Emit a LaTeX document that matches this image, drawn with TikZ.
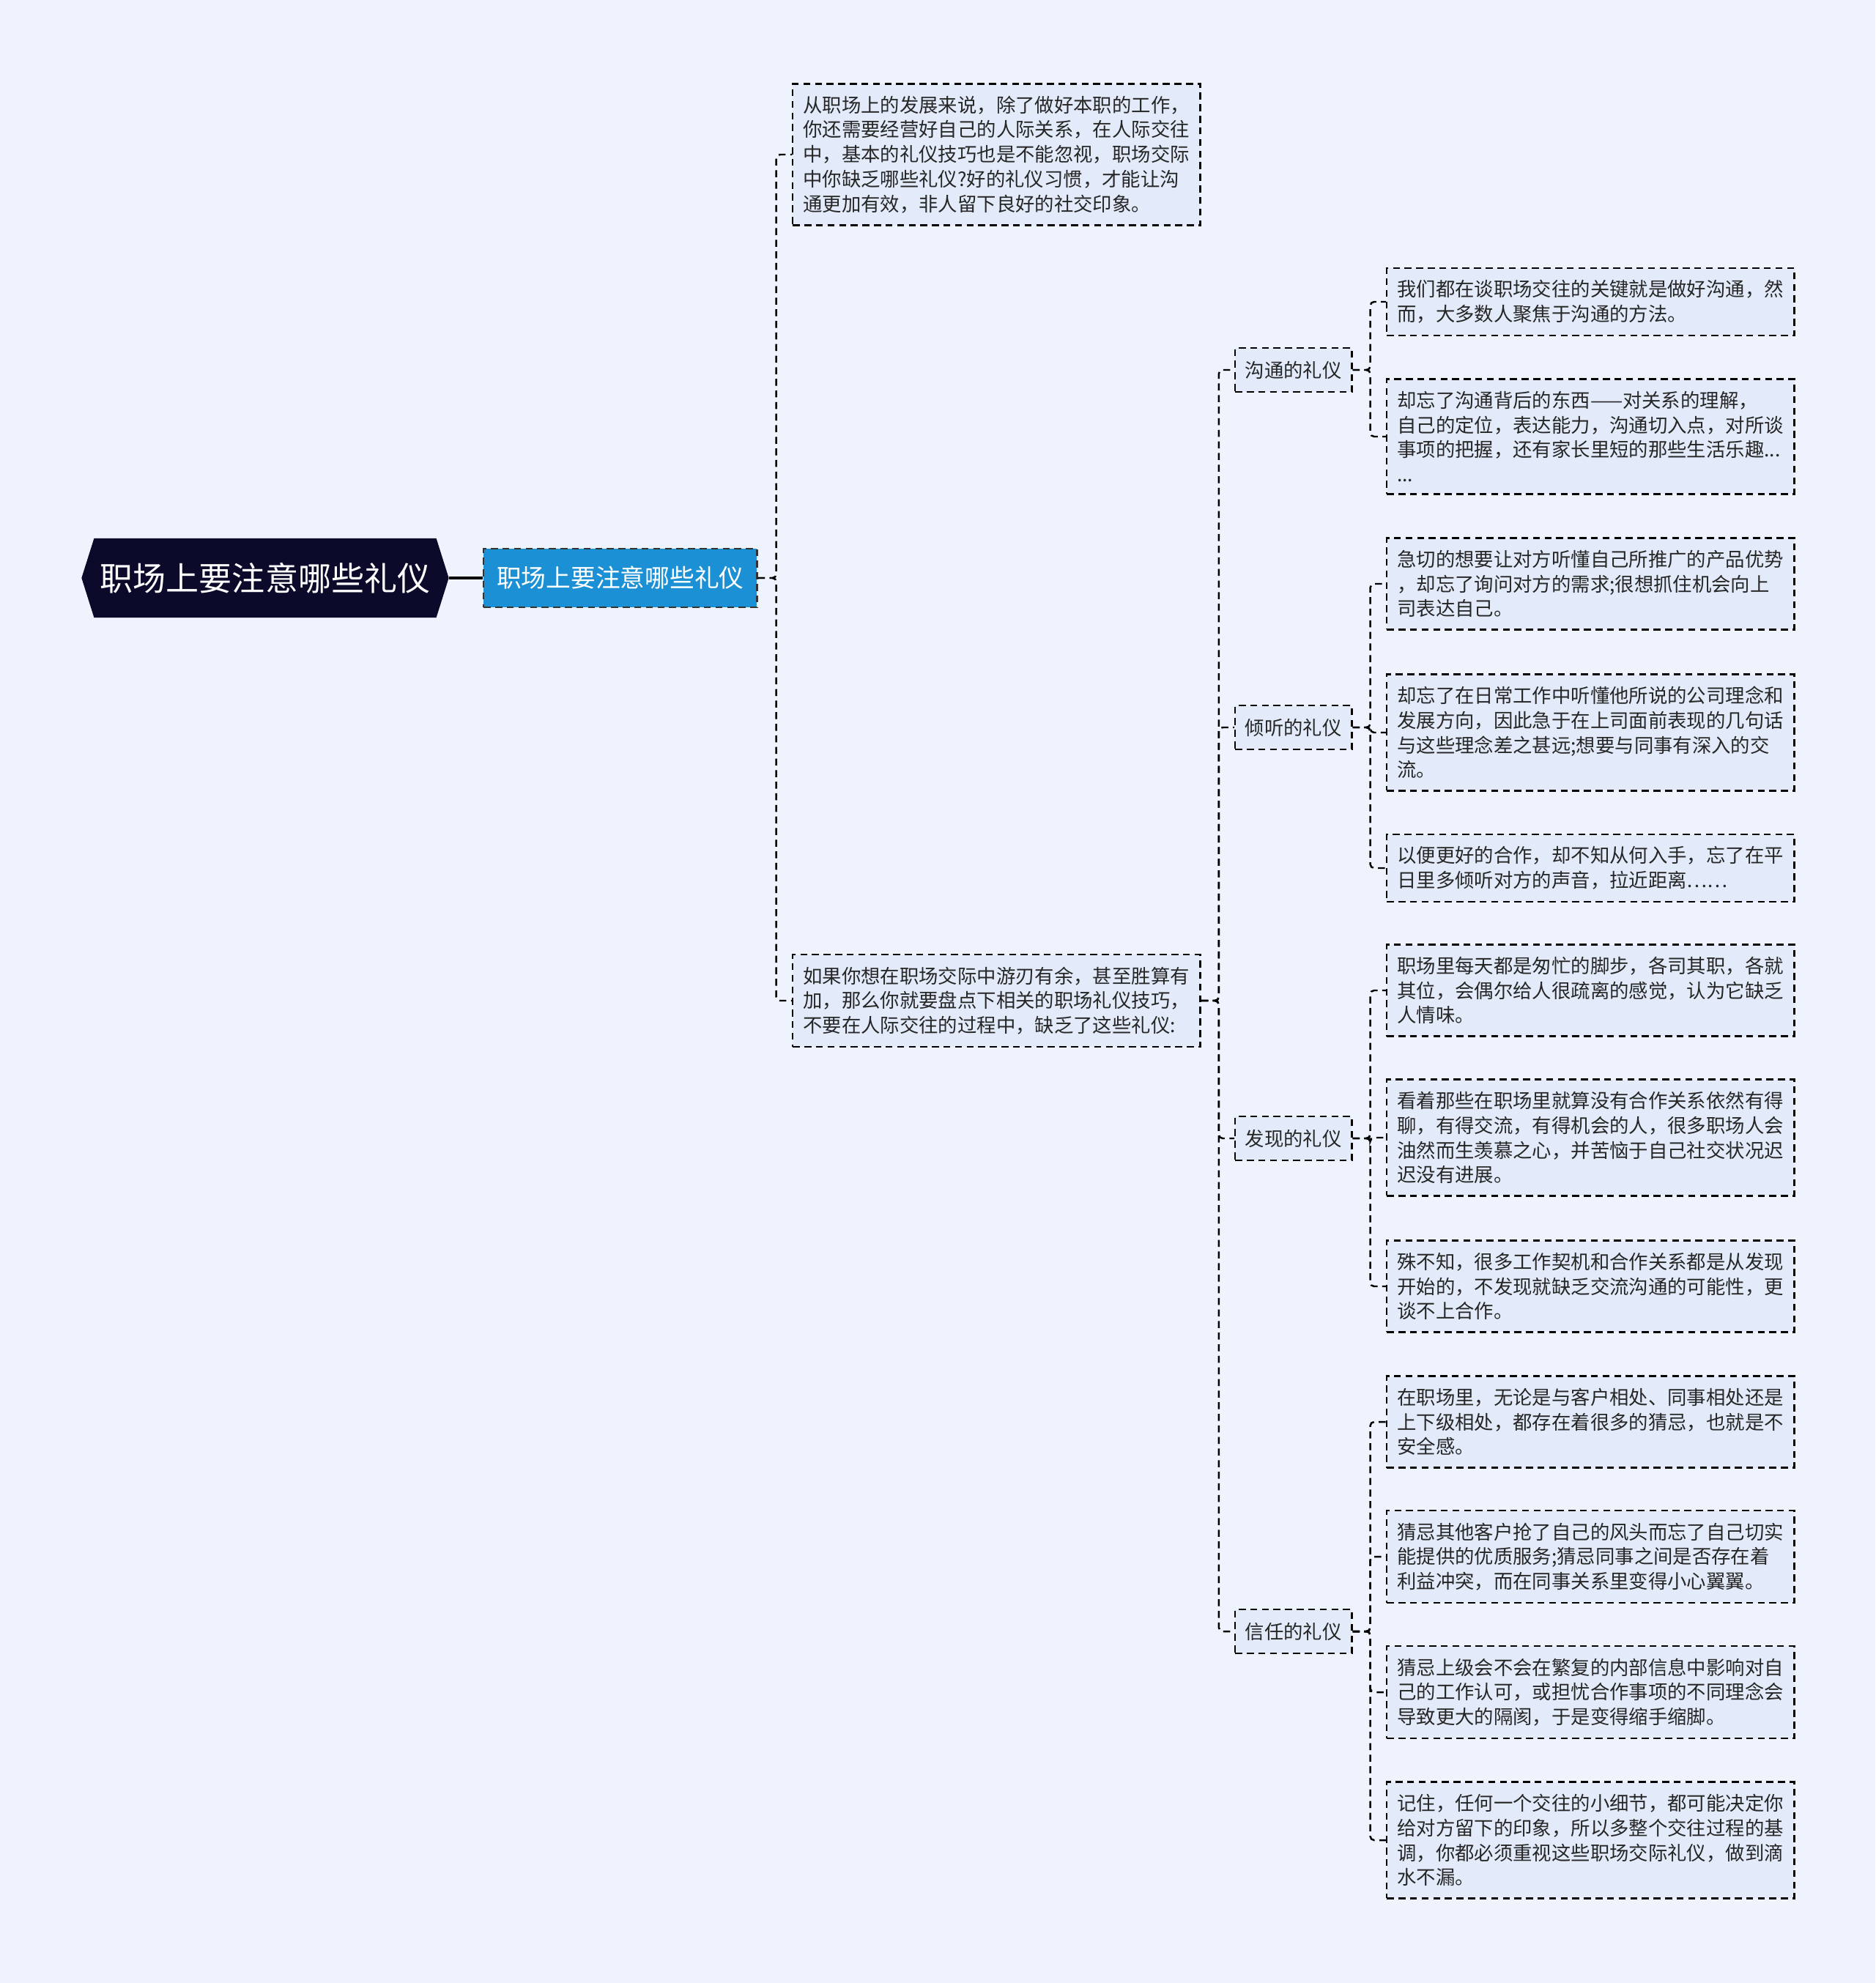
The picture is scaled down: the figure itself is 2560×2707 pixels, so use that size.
\documentclass[tikz,border=0pt]{standalone}
\usepackage{fontspec}
\setmainfont{Noto Sans CJK SC}
\usetikzlibrary{shapes.symbols}

\definecolor{bgcol}{HTML}{EEF3FE}
\definecolor{boxcol}{HTML}{E3EBFA}
\definecolor{rootcol}{HTML}{0B0A2B}
\definecolor{bluecol}{HTML}{1C90D4}
\definecolor{txtcol}{HTML}{262626}

\tikzset{
  dashline/.style={line width=0.7pt, dash pattern=on 2.7pt off 1.8pt},
  link/.style={dashline, draw=black, rounded corners=1.5pt},
  leafbox/.style={dashline, draw=black, fill=boxcol, text=txtcol,
    font=\fontsize{7.5}{9.6}\selectfont, text width=5.28cm, align=left,
    inner xsep=0.14cm, inner ysep=0.165cm, anchor=west},
  catbox/.style={dashline, draw=black, fill=boxcol, text=txtcol,
    font=\fontsize{7.5}{9.6}\selectfont, minimum width=1.59cm,
    minimum height=0.6cm, inner sep=0pt, anchor=west}
}

\begin{document}
\begin{tikzpicture}[x=0.01cm, y=-0.01cm]

  % canvas
  \fill[bgcol] (0,0) rectangle (2560,2707);
  \useasboundingbox (0,0) rectangle (2560,2707);

  % root and main topic
  \node[signal, signal to=west and east, signal pointer angle=145,
        fill=rootcol, text=white, font=\fontsize{12.8}{14}\selectfont,
        minimum width=5.01cm, minimum height=1.08cm, inner xsep=2pt]
        (root) at (362,789) {职场上要注意哪些礼仪};
  \node[dashline, draw=black!80, fill=bluecol, text=white,
        font=\fontsize{9.6}{11}\selectfont, minimum width=3.73cm,
        minimum height=0.8cm, inner sep=0pt, anchor=west]
        (topic) at (659,789) {职场上要注意哪些礼仪};
  \draw[line width=1.3pt] (root.east) -- (topic.west);

  % first level
  \node[leafbox] (intro) at (1081,211) {从职场上的发展来说，除了做好本职的工作，\\
    你还需要经营好自己的人际关系，在人际交往\\
    中，基本的礼仪技巧也是不能忽视，职场交际\\
    中你缺乏哪些礼仪?好的礼仪习惯，才能让沟\\
    通更加有效，非人留下良好的社交印象。};
  \node[leafbox] (lead) at (1081,1366) {如果你想在职场交际中游刃有余，甚至胜算有\\
    加，那么你就要盘点下相关的职场礼仪技巧，\\
    不要在人际交往的过程中，缺乏了这些礼仪:};
  \foreach \n in {intro,lead}
    \draw[link] (topic.east) -- ++(25,0) |- (\n.west);

  % second level
  \foreach \n/\y/\t in {talk/505/沟通的礼仪, listen/993/倾听的礼仪,
                        find/1554/发现的礼仪, trust/2227/信任的礼仪} {
    \node[catbox] (\n) at (1685,\y) {\t};
    \draw[link] (lead.east) -- ++(24,0) |- (\n.west);
  }

  % leaves: communication
  \node[leafbox] (talkA) at (1892,412) {我们都在谈职场交往的关键就是做好沟通，然\\
    而，大多数人聚焦于沟通的方法。};
  \node[leafbox] (talkB) at (1892,596) {却忘了沟通背后的东西——对关系的理解，\\
    自己的定位，表达能力，沟通切入点，对所谈\\
    事项的把握，还有家长里短的那些生活乐趣...\\
    ...};

  % leaves: listening
  \node[leafbox] (listenA) at (1892,797) {急切的想要让对方听懂自己所推广的产品优势\\
    ，却忘了询问对方的需求;很想抓住机会向上\\
    司表达自己。};
  \node[leafbox] (listenB) at (1892,1000) {却忘了在日常工作中听懂他所说的公司理念和\\
    发展方向，因此急于在上司面前表现的几句话\\
    与这些理念差之甚远;想要与同事有深入的交\\
    流。};
  \node[leafbox] (listenC) at (1892,1185) {以便更好的合作，却不知从何入手，忘了在平\\
    日里多倾听对方的声音，拉近距离……};

  % leaves: discovery
  \node[leafbox] (findA) at (1892,1352) {职场里每天都是匆忙的脚步，各司其职，各就\\
    其位，会偶尔给人很疏离的感觉，认为它缺乏\\
    人情味。};
  \node[leafbox] (findB) at (1892,1553) {看着那些在职场里就算没有合作关系依然有得\\
    聊，有得交流，有得机会的人，很多职场人会\\
    油然而生羡慕之心，并苦恼于自己社交状况迟\\
    迟没有进展。};
  \node[leafbox] (findC) at (1892,1756) {殊不知，很多工作契机和合作关系都是从发现\\
    开始的，不发现就缺乏交流沟通的可能性，更\\
    谈不上合作。};

  % leaves: trust
  \node[leafbox] (trustA) at (1892,1941) {在职场里，无论是与客户相处、同事相处还是\\
    上下级相处，都存在着很多的猜忌，也就是不\\
    安全感。};
  \node[leafbox] (trustB) at (1892,2125) {猜忌其他客户抢了自己的风头而忘了自己切实\\
    能提供的优质服务;猜忌同事之间是否存在着\\
    利益冲突，而在同事关系里变得小心翼翼。};
  \node[leafbox] (trustC) at (1892,2310) {猜忌上级会不会在繁复的内部信息中影响对自\\
    己的工作认可，或担忧合作事项的不同理念会\\
    导致更大的隔阂，于是变得缩手缩脚。};
  \node[leafbox] (trustD) at (1892,2512) {记住，任何一个交往的小细节，都可能决定你\\
    给对方留下的印象，所以多整个交往过程的基\\
    调，你都必须重视这些职场交际礼仪，做到滴\\
    水不漏。};

  % connectors to leaves
  \foreach \p/\c in {talk/talkA, talk/talkB,
                     listen/listenA, listen/listenB, listen/listenC,
                     find/findA, find/findB, find/findC,
                     trust/trustA, trust/trustB, trust/trustC, trust/trustD}
    \draw[link] (\p.east) -- ++(24,0) |- (\c.west);

\end{tikzpicture}
\end{document}
